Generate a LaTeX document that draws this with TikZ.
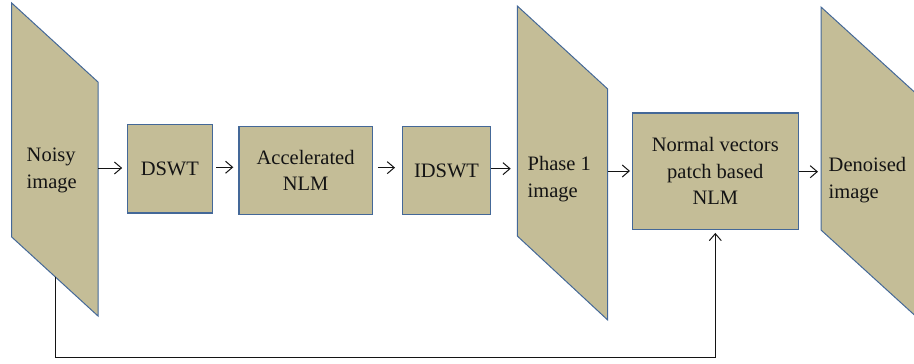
\documentclass[tikz,border=0pt]{standalone}
\usepackage{fontspec}
\setmainfont{Liberation Serif}
\usetikzlibrary{arrows.meta,calc}
\definecolor{tanfill}{RGB}{196,189,151}
\definecolor{edgeblue}{RGB}{68,104,152}
\definecolor{ink}{RGB}{20,20,20}
\begin{document}
\begin{tikzpicture}[x=1pt,y=-1pt,
  blk/.style={draw=edgeblue,fill=tanfill,line width=1.2pt,inner sep=0pt,anchor=north west,
    align=center,text=ink,font=\fontsize{20.5}{26.5}\selectfont},
  para/.style={draw=edgeblue,fill=tanfill,line width=1pt},
  lbl/.style={inner sep=0pt,anchor=west,align=left,text=ink,font=\fontsize{20.5}{27}\selectfont},
  conn/.style={-{Straight Barb[length=7pt,width=12pt]},line width=1pt,draw=ink}]
\useasboundingbox (0,0) rectangle (914,364);
\clip (0,0) rectangle (914,364);
% parallelograms
\filldraw[para] (11.7,3) -- (98,82) -- (98,316) -- (11.7,237) -- cycle;
\filldraw[para] (517.3,6) -- (607.7,89) -- (607.7,320) -- (517.3,236) -- cycle;
\filldraw[para] (821,7) -- (921,98) -- (921,321) -- (821,230) -- cycle;
\node[lbl] (noisy) at (26.5,170.8) {Noisy\\image};
\node[lbl] (phase) at (527.5,178.7) {Phase 1\\image};
\node[lbl] (denoised) at (828.5,180.5) {Denoised\\image};
\coordinate (noisyR) at (98,168);
\coordinate (noisyB) at (55,276.6);
\coordinate (phaseL) at (517.3,168);
\coordinate (phaseR) at (607.7,171);
\coordinate (denL) at (821,171.7);
\coordinate (fbc) at (55,357);
% boxes
\node[blk,minimum width=85pt,minimum height=88.3pt] (dswt) at (126.7,124) {DSWT};
\node[blk,minimum width=133.4pt,minimum height=88.3pt] (acc) at (238.3,125.7) {Accelerated\\NLM};
\node[blk,minimum width=88.3pt,minimum height=88.3pt] (idswt) at (401.7,125.7) {IDSWT};
\node[blk,minimum width=166pt,minimum height=116.7pt] (nv) at (631.7,112.3) {Normal vectors\\patch based\\NLM};
% connectors
\draw[conn,shorten >=4.5pt] (noisyR) -- (noisyR -| dswt.west);
\draw[conn,shorten <=3.3pt,shorten >=5pt] ([yshift=1.5pt]dswt.east) -- ([yshift=1.5pt]dswt.east -| acc.west);
\draw[conn,shorten <=5pt,shorten >=6.7pt] ([yshift=2.8pt]acc.east) -- ([yshift=2.8pt]acc.east -| idswt.west);
\draw[conn,shorten >=6.6pt] ([yshift=1.8pt]idswt.east) -- ([yshift=1.8pt]idswt.east -| phaseL);
\draw[conn,shorten >=1.7pt] (phaseR) -- (phaseR -| nv.west);
\draw[conn,shorten >=3pt] (denL -| nv.east) -- (denL);
\draw[conn,shorten >=2.7pt] (noisyB) -- (fbc) -| (nv.south);
\end{tikzpicture}
\end{document}
